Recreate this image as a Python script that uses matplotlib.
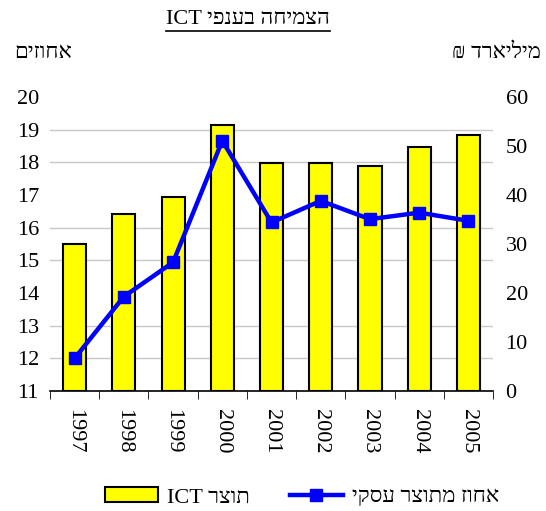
import numpy as np
import matplotlib
matplotlib.use("Agg")
import matplotlib.pyplot as plt
from matplotlib.lines import Line2D

plt.rcParams['font.family'] = ['Liberation Serif', 'DejaVu Sans']


def rtl(s):
    # matplotlib has no bidi support, so put Hebrew text in visual order
    words = s.split(' ')
    out = []
    for w in reversed(words):
        if any('\u0590' <= c <= '\u05ff' for c in w):
            out.append(w[::-1])
        else:
            out.append(w)
    return ' '.join(out)


years = ["1997", "1998", "1999", "2000", "2001", "2002", "2003", "2004", "2005"]
# ICT product, billion NIS (right axis)
ict_product = [30.1, 36.2, 39.5, 54.3, 46.5, 46.5, 46.0, 49.7, 52.2]
# share of business sector product, percent (left axis)
pct_of_business = [12.0, 13.89, 14.94, 18.66, 16.16, 16.82, 16.26, 16.46, 16.21]

title = "הצמיחה בענפי ICT"
left_label = "אחוזים"
right_label = "מיליארד ₪"
bar_label = "תוצר ICT"
line_label = "אחוז מתוצר עסקי"

fs = 16
fig = plt.figure(figsize=(5.46, 5.11), dpi=100)
ax = fig.add_axes([0.0916, 0.2348, 0.8114, 0.5754])
ax2 = ax.twinx()
ax.set_zorder(ax2.get_zorder() + 1)
ax.patch.set_visible(False)

x = np.arange(len(years))

# bars on the right axis
bars = ax2.bar(x, ict_product, width=0.47, color="#ffff00", edgecolor="black",
               linewidth=1.5, zorder=3)
ax2.set_ylim(0, 60)
ax2.set_yticks(np.arange(0, 61, 10))
ax2.set_yticks(np.linspace(0, 60, 10), minor=True)
ax2.grid(which="minor", axis="y", color="#c8c8c8", linewidth=1.0)
ax2.set_axisbelow(True)
ax2.tick_params(axis="y", which="both", length=0, labelsize=fs, pad=9)

# line on the left axis
line, = ax.plot(x, pct_of_business, color="#0000ff", linewidth=3.2, marker="s",
                markersize=9, zorder=5)
ax.set_ylim(11, 20)
ax.set_yticks(np.arange(11, 21, 1))
ax.tick_params(axis="y", length=0, labelsize=fs, pad=8)

ax.set_xlim(-0.5, len(years) - 0.5)
ax.set_xticks(x)
ax.set_xticklabels(years, rotation=-90, fontsize=fs)
ax.set_xticks(np.arange(-0.5, len(years), 1), minor=True)
ax.tick_params(axis="x", which="major", length=0, pad=13)
ax.tick_params(axis="x", which="minor", length=6, direction="out", color="black")

for a in (ax, ax2):
    for side in ("left", "right", "top", "bottom"):
        a.spines[side].set_visible(False)
ax.spines["bottom"].set_visible(True)
ax.spines["bottom"].set_linewidth(1.2)

fig.text(0.027, 0.895, rtl(left_label), fontsize=fs, ha="left", va="center")
fig.text(0.99, 0.895, rtl(right_label), fontsize=fs, ha="right", va="center")

t = fig.text(0.455, 0.962, rtl(title), fontsize=fs, ha="center", va="center")
fig.canvas.draw()
bb = t.get_window_extent().transformed(fig.transFigure.inverted())
fig.add_artist(Line2D([bb.x0, bb.x1], [bb.y0 - 0.004, bb.y0 - 0.004],
                      transform=fig.transFigure, color="black", linewidth=1.2))

fig.legend([bars, line], [rtl(bar_label), rtl(line_label)], loc="center",
           bbox_to_anchor=(0.553, 0.027), ncol=2, frameon=False, fontsize=fs,
           handlelength=2.4, columnspacing=1.8, handletextpad=0.4)

fig.savefig("out.png", dpi=100)
